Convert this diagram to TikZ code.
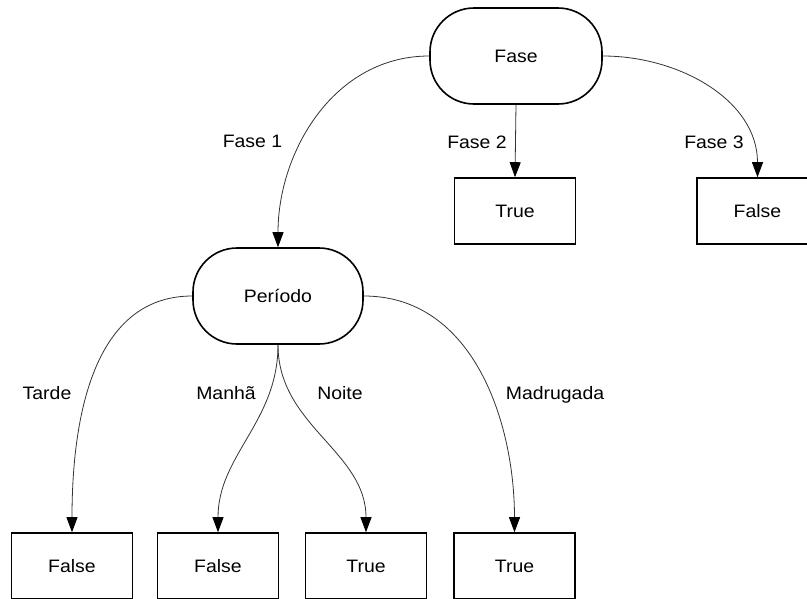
\documentclass[tikz,border=0pt]{standalone}
\usepackage{fontspec}
\setmainfont[FakeStretch=1.08]{Liberation Sans}
\usetikzlibrary{arrows.meta}
\begin{document}
\begin{tikzpicture}[x=1pt,y=-1pt,
  every node/.style={font=\fontsize{18}{20}\selectfont},
  term/.style={draw=black,line width=1.6pt,rectangle,rounded corners=44pt,minimum width=172pt,minimum height=96pt,inner sep=0pt},
  leaf/.style={draw=black,line width=1.6pt,rectangle,minimum width=121pt,minimum height=66pt,inner sep=0pt},
  edge/.style={draw=black!80,line width=0.8pt,-{Triangle[width=11pt,length=15pt,color=black]}},
  lbl/.style={anchor=base,inner sep=0pt}]
\useasboundingbox (0,0) rectangle (807,598);
\fill[white] (0,0) rectangle (807,598);
\node[term] (fase) at (516,56) {Fase};
\node[term,minimum width=170pt] (per) at (278,296) {Período};
\node[leaf] (t2) at (515,211) {True};
\node[leaf] (f3) at (757.5,211) {False};
\node[leaf] (b1) at (72,566) {False};
\node[leaf] (b2) at (218,566) {False};
\node[leaf] (b3) at (366,566) {True};
\node[leaf] (b4) at (514.5,566) {True};
\draw[edge] (fase.west) to[out=180,in=90] (per.north);
\draw[edge] (fase.south) -- (t2.north);
\draw[edge] (fase.east) to[out=0,in=90] (f3.north);
\draw[edge] (per.west) to[out=180,in=90] (b1.north);
\draw[edge] (per.south) to[out=-90,in=90] (b2.north);
\draw[edge] (per.south) to[out=-90,in=90] (b3.north);
\draw[edge] (per.east) to[out=0,in=90] (b4.north);
\node[lbl] (l1) at (252.5,147) {Fase 1};
\node[lbl] (l2) at (477,148) {Fase 2};
\node[lbl] (l3) at (714,148) {Fase 3};
\node[lbl] (l4) at (47,399) {Tarde};
\node[lbl] (l5) at (226,399) {Manhã};
\node[lbl] (l6) at (340,399) {Noite};
\node[lbl] (l7) at (555,399) {Madrugada};
\end{tikzpicture}
\end{document}
